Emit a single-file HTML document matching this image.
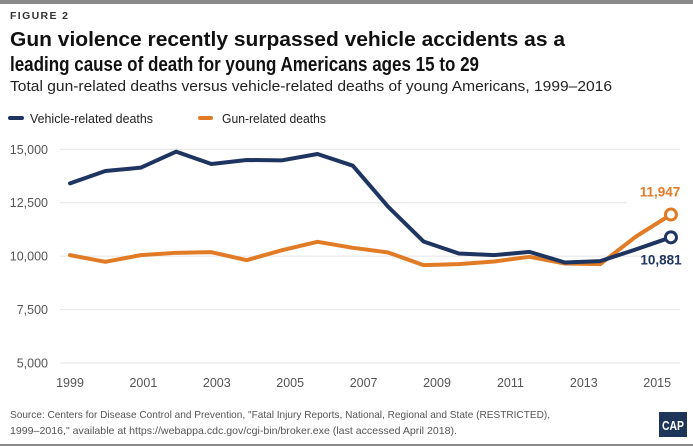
<!DOCTYPE html>
<html><head><meta charset="utf-8"><style>
html,body{margin:0;padding:0;background:#fff;}
svg{display:block;font-family:"Liberation Sans",sans-serif;}
</style></head><body>
<svg id="chart" width="693" height="446" viewBox="0 0 693 446">
<rect x="0" y="0" width="693" height="4" fill="#8a8a8a"/>
<rect x="0" y="444" width="693" height="2" fill="#8a8a8a"/>
<text x="10" y="19" font-size="10.5" font-weight="bold" fill="#333" textLength="58">FIGURE 2</text>
<text x="10" y="46" font-size="20" font-weight="bold" fill="#111" textLength="555" lengthAdjust="spacingAndGlyphs">Gun violence recently surpassed vehicle accidents as a</text>
<text x="10" y="71" font-size="20" font-weight="bold" fill="#111" textLength="469" lengthAdjust="spacingAndGlyphs">leading cause of death for young Americans ages 15 to 29</text>
<text x="10" y="91" font-size="14.5" fill="#222" textLength="602" lengthAdjust="spacingAndGlyphs">Total gun-related deaths  versus vehicle-related deaths of young Americans, 1999–2016</text>
<g>
<line x1="10" y1="118" x2="22" y2="118" stroke="#1f3561" stroke-width="4" stroke-linecap="round"/>
<text x="30" y="123" font-size="13" fill="#222" textLength="123" lengthAdjust="spacingAndGlyphs">Vehicle-related deaths</text>
<line x1="200" y1="118" x2="211" y2="118" stroke="#e27b25" stroke-width="4" stroke-linecap="round"/>
<text x="222" y="123" font-size="13" fill="#222" textLength="104" lengthAdjust="spacingAndGlyphs">Gun-related deaths</text>
</g>
<g id="grid"></g><g id="series"></g>
<text x="10" y="418" font-size="10.5" fill="#555" textLength="540" lengthAdjust="spacingAndGlyphs">Source: Centers for Disease Control and Prevention, "Fatal Injury Reports, National, Regional and State (RESTRICTED),</text>
<text x="10" y="434" font-size="10.5" fill="#555" textLength="447" lengthAdjust="spacingAndGlyphs">1999–2016," available at https://webappa.cdc.gov/cgi-bin/broker.exe (last accessed April 2018).</text>
<g>
<rect x="659" y="412" width="28" height="25" fill="#1c3558"/>
<text x="673" y="430" font-size="13" font-weight="bold" fill="#fff" text-anchor="middle" textLength="22" lengthAdjust="spacingAndGlyphs">CAP</text>
</g>
</svg>
<script>
const years=[1999,2000,2001,2002,2003,2004,2005,2006,2007,2008,2009,2010,2011,2012,2013,2014,2015,2016];
const vehicle=[13406,13984,14140,14890,14312,14500,14484,14780,14234,12312,10687,10125,10047,10200,9703,9766,10312,10881];
const gun=[10047,9734,10047,10156,10187,9812,10281,10672,10390,10172,9578,9625,9750,9969,9656,9625,10906,11947];
const yTicks=[5000,7500,10000,12500,15000];
const yTickLabels=["5,000","7,500","10,000","12,500","15,000"];
const xTickLabels=["1999","2001","2003","2005","2007","2009","2011","2013","2015"];
const NS="http://www.w3.org/2000/svg";
const x=v=>70+(v-1999)*35.35;
const y=v=>363-(v-5000)*(213.7/10000);
const xl=i=>70+i*73.4;
function mk(t,a,p){const e=document.createElementNS(NS,t);for(const k in a)e.setAttribute(k,a[k]);p.appendChild(e);return e;}
const grid=document.getElementById('grid'),ser=document.getElementById('series');
yTicks.forEach((t,i)=>{
  const ln=mk('line',{x1:60,x2:t===12500?627:680,y1:y(t),y2:y(t),stroke:'#e4e4e4','stroke-width':1},grid);
  
  
  const tx=mk('text',{x:48,y:y(t)+4.5,'font-size':12.5,fill:'#555','text-anchor':'end'},grid);
  tx.textContent=yTickLabels[i];
  
  
});
xTickLabels.forEach((l,i)=>{
  const tx=mk('text',{x:xl(i),y:387,'font-size':12.5,fill:'#555','text-anchor':'middle'},grid);
  tx.textContent=l;
  
  
});
function line(data,color,name){
  const p=mk('polyline',{points:data.map((v,i)=>x(years[i])+','+y(v)).join(' '),fill:'none',stroke:color,'stroke-width':4,'stroke-linejoin':'round','stroke-linecap':'round'},ser);
  
  
  const n=data.length-1;
  const c=mk('circle',{cx:x(years[n]),cy:y(data[n]),r:5.5,fill:'#fff',stroke:color,'stroke-width':3},ser);
  
  
}
line(gun,'#e27b25','gun');
line(vehicle,'#1f3561','vehicle');
const gl=mk('text',{x:660,y:y(gun[gun.length-1])-18,'font-size':13.5,'font-weight':'bold',fill:'#e27b25','text-anchor':'middle'},ser);
gl.textContent=gun[gun.length-1].toLocaleString('en-US');


const vl=mk('text',{x:661,y:y(vehicle[vehicle.length-1])+27,'font-size':13.5,'font-weight':'bold',fill:'#1f3561','text-anchor':'middle'},ser);
vl.textContent=vehicle[vehicle.length-1].toLocaleString('en-US');


</script>
</body></html>
